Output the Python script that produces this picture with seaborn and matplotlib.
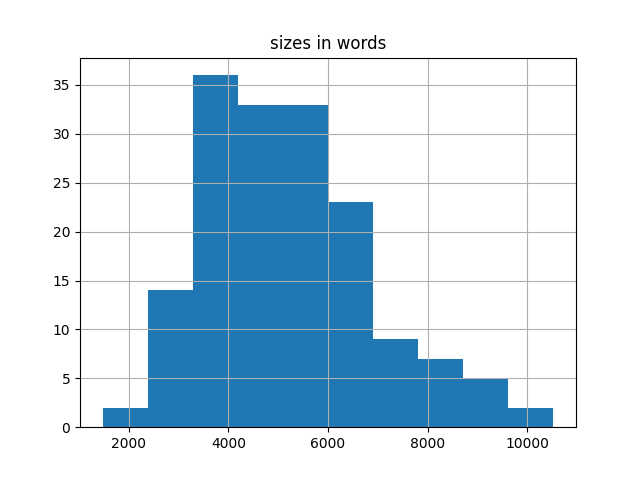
import numpy as np
import pandas as pd
import matplotlib
matplotlib.use("Agg")
import matplotlib.pyplot as plt
import seaborn as sns

# data
size_min = 1470
size_max = 10530
counts = [2, 14, 36, 33, 33, 23, 9, 7, 5, 2]

edges = np.linspace(size_min, size_max, len(counts) + 1)
centers = (edges[:-1] + edges[1:]) / 2
df = pd.DataFrame({"size": centers, "n": counts})

fig, ax = plt.subplots(figsize=(6.4, 4.8), dpi=100)
sns.histplot(data=df, x="size", weights="n", bins=len(counts),
             binrange=(size_min, size_max), ax=ax,
             color="#1f77b4", alpha=1, edgecolor="none", linewidth=0)
ax.grid(True, color="#b0b0b0", linewidth=0.8)
ax.set_title("sizes in words")
ax.set_xlabel("")
ax.set_ylabel("")
ax.set_xticks([2000, 4000, 6000, 8000, 10000])
fig.savefig("out.png", dpi=100)
